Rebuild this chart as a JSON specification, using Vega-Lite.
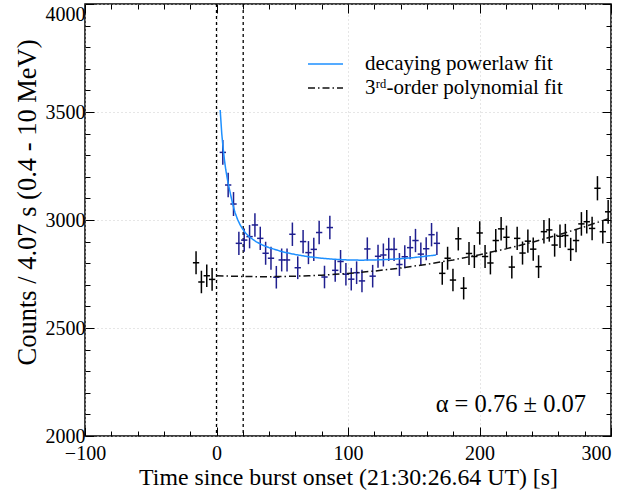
{
  "$schema": "https://vega.github.io/schema/vega-lite/v6.json",
  "width": 526,
  "height": 432,
  "autosize": "none",
  "padding": {"left": 85, "top": 4, "right": 14, "bottom": 55},
  "config": {
    "font": "Liberation Serif",
    "view": {"stroke": "black", "strokeWidth": 1.5},
    "axis": {
      "domain": false,
      "labelFont": "Liberation Serif",
      "titleFont": "Liberation Serif",
      "labelFontSize": 20,
      "titleFontSize": 23.8,
      "titleFontWeight": "normal",
      "labelColor": "black",
      "titleColor": "black",
      "tickColor": "black",
      "tickWidth": 1,
      "grid": false
    }
  },
  "datasets": {
    "pts": [
      {"t": -15.55, "c": 2802, "e": 52.9, "dt": 2.4, "g": "o"},
      {"t": -11.48, "c": 2713, "e": 52.1, "dt": 2.4, "g": "o"},
      {"t": -7.41, "c": 2742, "e": 52.4, "dt": 2.4, "g": "o"},
      {"t": -3.34, "c": 2725, "e": 52.2, "dt": 2.4, "g": "o"},
      {"t": 4.8, "c": 3313, "e": 57.6, "dt": 2.4, "g": "b"},
      {"t": 8.87, "c": 3162, "e": 56.2, "dt": 2.4, "g": "b"},
      {"t": 12.94, "c": 3074, "e": 55.4, "dt": 2.4, "g": "b"},
      {"t": 17.01, "c": 2892, "e": 53.8, "dt": 2.4, "g": "b"},
      {"t": 21.08, "c": 2907, "e": 53.9, "dt": 2.4, "g": "b"},
      {"t": 25.15, "c": 2923, "e": 54.1, "dt": 2.4, "g": "b"},
      {"t": 29.22, "c": 2977, "e": 54.6, "dt": 2.4, "g": "b"},
      {"t": 33.29, "c": 2915, "e": 54.0, "dt": 2.4, "g": "b"},
      {"t": 37.36, "c": 2846, "e": 53.3, "dt": 2.4, "g": "b"},
      {"t": 41.43, "c": 2823, "e": 53.1, "dt": 2.4, "g": "b"},
      {"t": 45.5, "c": 2735, "e": 52.3, "dt": 2.4, "g": "b"},
      {"t": 49.57, "c": 2815, "e": 53.1, "dt": 2.4, "g": "b"},
      {"t": 53.64, "c": 2815, "e": 53.1, "dt": 2.4, "g": "b"},
      {"t": 57.71, "c": 2934, "e": 54.2, "dt": 2.4, "g": "b"},
      {"t": 61.78, "c": 2779, "e": 52.7, "dt": 2.4, "g": "b"},
      {"t": 65.85, "c": 2900, "e": 53.9, "dt": 2.4, "g": "b"},
      {"t": 69.92, "c": 2849, "e": 53.4, "dt": 2.4, "g": "b"},
      {"t": 73.99, "c": 2864, "e": 53.5, "dt": 2.4, "g": "b"},
      {"t": 78.06, "c": 2942, "e": 54.2, "dt": 2.4, "g": "b"},
      {"t": 82.13, "c": 2736, "e": 52.3, "dt": 2.4, "g": "b"},
      {"t": 86.2, "c": 2965, "e": 54.5, "dt": 2.4, "g": "b"},
      {"t": 90.27, "c": 2767, "e": 52.6, "dt": 2.4, "g": "b"},
      {"t": 94.34, "c": 2808, "e": 53.0, "dt": 2.4, "g": "b"},
      {"t": 98.41, "c": 2749, "e": 52.4, "dt": 2.4, "g": "b"},
      {"t": 102.48, "c": 2726, "e": 52.2, "dt": 2.4, "g": "b"},
      {"t": 106.55, "c": 2756, "e": 52.5, "dt": 2.4, "g": "b"},
      {"t": 110.62, "c": 2718, "e": 52.1, "dt": 2.4, "g": "b"},
      {"t": 114.69, "c": 2866, "e": 53.5, "dt": 2.4, "g": "b"},
      {"t": 118.76, "c": 2740, "e": 52.3, "dt": 2.4, "g": "b"},
      {"t": 122.83, "c": 2832, "e": 53.2, "dt": 2.4, "g": "b"},
      {"t": 126.9, "c": 2838, "e": 53.3, "dt": 2.4, "g": "b"},
      {"t": 130.97, "c": 2864, "e": 53.5, "dt": 2.4, "g": "b"},
      {"t": 135.04, "c": 2864, "e": 53.5, "dt": 2.4, "g": "b"},
      {"t": 139.11, "c": 2794, "e": 52.9, "dt": 2.4, "g": "b"},
      {"t": 143.18, "c": 2830, "e": 53.2, "dt": 2.4, "g": "b"},
      {"t": 147.25, "c": 2872, "e": 53.6, "dt": 2.4, "g": "b"},
      {"t": 151.32, "c": 2905, "e": 53.9, "dt": 2.4, "g": "b"},
      {"t": 155.39, "c": 2842, "e": 53.3, "dt": 2.4, "g": "b"},
      {"t": 159.46, "c": 2867, "e": 53.5, "dt": 2.4, "g": "b"},
      {"t": 163.53, "c": 2932, "e": 54.1, "dt": 2.4, "g": "b"},
      {"t": 167.6, "c": 2892, "e": 53.8, "dt": 2.4, "g": "b"},
      {"t": 171.67, "c": 2753, "e": 52.5, "dt": 2.4, "g": "o"},
      {"t": 175.74, "c": 2823, "e": 53.1, "dt": 2.4, "g": "o"},
      {"t": 179.81, "c": 2722, "e": 52.2, "dt": 2.4, "g": "o"},
      {"t": 183.88, "c": 2913, "e": 54.0, "dt": 2.4, "g": "o"},
      {"t": 187.95, "c": 2684, "e": 51.8, "dt": 2.4, "g": "o"},
      {"t": 192.02, "c": 2845, "e": 53.3, "dt": 2.4, "g": "o"},
      {"t": 196.09, "c": 2831, "e": 53.2, "dt": 2.4, "g": "o"},
      {"t": 200.16, "c": 2940, "e": 54.2, "dt": 2.4, "g": "o"},
      {"t": 204.23, "c": 2831, "e": 53.2, "dt": 2.4, "g": "o"},
      {"t": 208.3, "c": 2801, "e": 52.9, "dt": 2.4, "g": "o"},
      {"t": 212.37, "c": 2905, "e": 53.9, "dt": 2.4, "g": "o"},
      {"t": 216.44, "c": 2959, "e": 54.4, "dt": 2.4, "g": "o"},
      {"t": 220.51, "c": 2920, "e": 54.0, "dt": 2.4, "g": "o"},
      {"t": 224.58, "c": 2782, "e": 52.7, "dt": 2.4, "g": "o"},
      {"t": 228.65, "c": 2915, "e": 54.0, "dt": 2.4, "g": "o"},
      {"t": 232.72, "c": 2847, "e": 53.4, "dt": 2.4, "g": "o"},
      {"t": 236.79, "c": 2902, "e": 53.9, "dt": 2.4, "g": "o"},
      {"t": 240.86, "c": 2865, "e": 53.5, "dt": 2.4, "g": "o"},
      {"t": 244.93, "c": 2784, "e": 52.8, "dt": 2.4, "g": "o"},
      {"t": 249.0, "c": 2946, "e": 54.3, "dt": 2.4, "g": "o"},
      {"t": 253.07, "c": 2954, "e": 54.4, "dt": 2.4, "g": "o"},
      {"t": 257.14, "c": 2884, "e": 53.7, "dt": 2.4, "g": "o"},
      {"t": 261.21, "c": 2925, "e": 54.1, "dt": 2.4, "g": "o"},
      {"t": 265.28, "c": 2928, "e": 54.1, "dt": 2.4, "g": "o"},
      {"t": 269.35, "c": 2864, "e": 53.5, "dt": 2.4, "g": "o"},
      {"t": 273.42, "c": 2905, "e": 53.9, "dt": 2.4, "g": "o"},
      {"t": 277.49, "c": 2982, "e": 54.6, "dt": 2.4, "g": "o"},
      {"t": 281.56, "c": 2992, "e": 54.7, "dt": 2.4, "g": "o"},
      {"t": 285.63, "c": 2961, "e": 54.4, "dt": 2.4, "g": "o"},
      {"t": 289.7, "c": 3147, "e": 56.1, "dt": 2.4, "g": "o"},
      {"t": 293.77, "c": 2946, "e": 54.3, "dt": 2.4, "g": "o"},
      {"t": 297.84, "c": 3038, "e": 55.1, "dt": 2.4, "g": "o"}
    ],
    "fits": [
      {"t": 2.8, "v": 3509, "s": "decaying powerlaw fit"},
      {"t": 4, "v": 3400, "s": "decaying powerlaw fit"},
      {"t": 5, "v": 3335, "s": "decaying powerlaw fit"},
      {"t": 6, "v": 3280, "s": "decaying powerlaw fit"},
      {"t": 7, "v": 3235, "s": "decaying powerlaw fit"},
      {"t": 8, "v": 3198, "s": "decaying powerlaw fit"},
      {"t": 9, "v": 3166, "s": "decaying powerlaw fit"},
      {"t": 10, "v": 3138, "s": "decaying powerlaw fit"},
      {"t": 12, "v": 3082, "s": "decaying powerlaw fit"},
      {"t": 14, "v": 3036, "s": "decaying powerlaw fit"},
      {"t": 16, "v": 3003, "s": "decaying powerlaw fit"},
      {"t": 18, "v": 2977, "s": "decaying powerlaw fit"},
      {"t": 20, "v": 2957, "s": "decaying powerlaw fit"},
      {"t": 22, "v": 2940, "s": "decaying powerlaw fit"},
      {"t": 25, "v": 2922, "s": "decaying powerlaw fit"},
      {"t": 30, "v": 2900, "s": "decaying powerlaw fit"},
      {"t": 35, "v": 2884, "s": "decaying powerlaw fit"},
      {"t": 40, "v": 2872, "s": "decaying powerlaw fit"},
      {"t": 50, "v": 2853, "s": "decaying powerlaw fit"},
      {"t": 60, "v": 2840, "s": "decaying powerlaw fit"},
      {"t": 70, "v": 2830, "s": "decaying powerlaw fit"},
      {"t": 80, "v": 2823, "s": "decaying powerlaw fit"},
      {"t": 90, "v": 2818, "s": "decaying powerlaw fit"},
      {"t": 100, "v": 2815, "s": "decaying powerlaw fit"},
      {"t": 110, "v": 2814, "s": "decaying powerlaw fit"},
      {"t": 120, "v": 2815, "s": "decaying powerlaw fit"},
      {"t": 130, "v": 2817, "s": "decaying powerlaw fit"},
      {"t": 140, "v": 2821, "s": "decaying powerlaw fit"},
      {"t": 150, "v": 2826, "s": "decaying powerlaw fit"},
      {"t": 160, "v": 2833, "s": "decaying powerlaw fit"},
      {"t": 167, "v": 2838, "s": "decaying powerlaw fit"},
      {"t": 0, "v": 2742, "s": "3ʳᵈ-order polynomial fit"},
      {"t": 10, "v": 2740, "s": "3ʳᵈ-order polynomial fit"},
      {"t": 20, "v": 2738.5, "s": "3ʳᵈ-order polynomial fit"},
      {"t": 30, "v": 2737.8, "s": "3ʳᵈ-order polynomial fit"},
      {"t": 40, "v": 2737.7, "s": "3ʳᵈ-order polynomial fit"},
      {"t": 50, "v": 2738.4, "s": "3ʳᵈ-order polynomial fit"},
      {"t": 60, "v": 2739.8, "s": "3ʳᵈ-order polynomial fit"},
      {"t": 70, "v": 2741.9, "s": "3ʳᵈ-order polynomial fit"},
      {"t": 80, "v": 2744.7, "s": "3ʳᵈ-order polynomial fit"},
      {"t": 90, "v": 2748.3, "s": "3ʳᵈ-order polynomial fit"},
      {"t": 100, "v": 2752.7, "s": "3ʳᵈ-order polynomial fit"},
      {"t": 120, "v": 2763.6, "s": "3ʳᵈ-order polynomial fit"},
      {"t": 140, "v": 2777.6, "s": "3ʳᵈ-order polynomial fit"},
      {"t": 160, "v": 2794.8, "s": "3ʳᵈ-order polynomial fit"},
      {"t": 180, "v": 2815.3, "s": "3ʳᵈ-order polynomial fit"},
      {"t": 200, "v": 2839.1, "s": "3ʳᵈ-order polynomial fit"},
      {"t": 220, "v": 2866.3, "s": "3ʳᵈ-order polynomial fit"},
      {"t": 240, "v": 2896.9, "s": "3ʳᵈ-order polynomial fit"},
      {"t": 260, "v": 2931.1, "s": "3ʳᵈ-order polynomial fit"},
      {"t": 280, "v": 2968.9, "s": "3ʳᵈ-order polynomial fit"},
      {"t": 300, "v": 3010.3, "s": "3ʳᵈ-order polynomial fit"}
    ]
  },
  "layer": [
    {
      "data": {"values": [{"v": 0}, {"v": 20.3}]},
      "mark": {"type": "rule", "color": "black", "strokeWidth": 1.3, "strokeDash": [3, 3]},
      "encoding": {
        "x": {
          "field": "v", "type": "quantitative",
          "scale": {"domain": [-100, 300], "nice": false, "zero": false},
          "axis": {
            "orient": "bottom",
            "values": [-100, -80, -60, -40, -20, 0, 20, 40, 60, 80, 100, 120, 140, 160, 180, 200, 220, 240, 260, 280, 300],
            "format": "d",
            "labelExpr": "datum.value % 100 === 0 ? datum.label : ''",
            "tickSize": {"condition": {"test": "datum.value % 100 === 0", "value": -9}, "value": -5},
            "labelPadding": 16,
            "labelAlign": {"condition": {"test": "datum.value === 300", "value": "right"}, "value": "center"},
            "grid": true,
            "gridDash": [1, 3],
            "gridColor": "#cccccc",
            "gridOpacity": {"condition": {"test": "datum.value % 100 === 0", "value": 1}, "value": 0},
            "title": "Time since burst onset (21:30:26.64 UT) [s]",
            "titlePadding": 2
          }
        }
      }
    },
    {
      "data": {"name": "pts"},
      "transform": [{"filter": "datum.g === 'o'"}],
      "mark": {"type": "errorbar", "color": "black", "thickness": 1.5, "clip": true},
      "encoding": {
        "x": {
          "field": "t", "type": "quantitative",
          "scale": {"domain": [-100, 300], "nice": false, "zero": false},
          "axis": {
            "orient": "top",
            "values": [-100, -80, -60, -40, -20, 0, 20, 40, 60, 80, 100, 120, 140, 160, 180, 200, 220, 240, 260, 280, 300],
            "labels": false,
            "title": null,
            "tickSize": {"condition": {"test": "datum.value % 100 === 0", "value": -9}, "value": -5}
          }
        },
        "y": {
          "field": "c", "type": "quantitative",
          "scale": {"domain": [2000, 4000], "nice": false, "zero": false},
          "axis": {
            "orient": "left",
            "values": [2000, 2100, 2200, 2300, 2400, 2500, 2600, 2700, 2800, 2900, 3000, 3100, 3200, 3300, 3400, 3500, 3600, 3700, 3800, 3900, 4000],
            "format": "d",
            "labelExpr": "datum.value % 500 === 0 ? datum.label : ''",
            "tickSize": {"condition": {"test": "datum.value % 500 === 0", "value": -9}, "value": -5},
            "labelPadding": 9,
            "labelBaseline": {"condition": {"test": "datum.value === 4000", "value": "top"}, "value": "middle"},
            "grid": true,
            "gridDash": [1, 3],
            "gridColor": "#cccccc",
            "gridOpacity": {"condition": {"test": "datum.value % 500 === 0", "value": 1}, "value": 0},
            "title": "Counts / 4.07 s (0.4 - 10 MeV)",
            "titleFontSize": 26.5,
            "titlePadding": 4,
            "titleY": 198
          }
        },
        "yError": {"field": "e"}
      }
    },
    {
      "data": {"name": "pts"},
      "transform": [{"filter": "datum.g === 'o'"}],
      "mark": {"type": "errorbar", "color": "black", "thickness": 1.5, "clip": true},
      "encoding": {
        "x": {"field": "t", "type": "quantitative", "scale": {"domain": [-100, 300], "nice": false, "zero": false}, "axis": null},
        "xError": {"field": "dt"},
        "y": {"field": "c", "type": "quantitative", "scale": {"domain": [2000, 4000], "nice": false, "zero": false}, "axis": null}
      }
    },
    {
      "data": {"name": "pts"},
      "transform": [{"filter": "datum.g === 'b'"}],
      "mark": {"type": "errorbar", "color": "#1f1f8f", "thickness": 1.5, "clip": true},
      "encoding": {
        "x": {"field": "t", "type": "quantitative", "scale": {"domain": [-100, 300], "nice": false, "zero": false}, "axis": null},
        "y": {
          "field": "c", "type": "quantitative",
          "scale": {"domain": [2000, 4000], "nice": false, "zero": false},
          "axis": {
            "orient": "right",
            "values": [2000, 2100, 2200, 2300, 2400, 2500, 2600, 2700, 2800, 2900, 3000, 3100, 3200, 3300, 3400, 3500, 3600, 3700, 3800, 3900, 4000],
            "labels": false,
            "title": null,
            "tickSize": {"condition": {"test": "datum.value % 500 === 0", "value": -9}, "value": -5}
          }
        },
        "yError": {"field": "e"}
      }
    },
    {
      "data": {"name": "pts"},
      "transform": [{"filter": "datum.g === 'b'"}],
      "mark": {"type": "errorbar", "color": "#1f1f8f", "thickness": 1.5, "clip": true},
      "encoding": {
        "x": {"field": "t", "type": "quantitative", "scale": {"domain": [-100, 300], "nice": false, "zero": false}, "axis": null},
        "xError": {"field": "dt"},
        "y": {"field": "c", "type": "quantitative", "scale": {"domain": [2000, 4000], "nice": false, "zero": false}, "axis": null}
      }
    },
    {
      "data": {"name": "fits"},
      "mark": {"type": "line", "strokeWidth": 1.5, "clip": true},
      "encoding": {
        "x": {"field": "t", "type": "quantitative", "scale": {"domain": [-100, 300], "nice": false, "zero": false}, "axis": null},
        "y": {"field": "v", "type": "quantitative", "scale": {"domain": [2000, 4000], "nice": false, "zero": false}, "axis": null},
        "detail": {"field": "s"},
        "color": {
          "field": "s", "type": "nominal",
          "scale": {"domain": ["decaying powerlaw fit", "3ʳᵈ-order polynomial fit"], "range": ["#1e90ff", "#111111"]},
          "legend": {
            "title": null,
            "orient": "none",
            "legendX": 227,
            "legendY": 46.5,
            "labelFont": "Liberation Serif",
            "labelFontSize": 21,
            "labelColor": "black",
            "labelLimit": 400,
            "symbolType": "M-1.4,0L1.4,0",
            "symbolSize": 625,
            "symbolStrokeWidth": 1.5,
            "labelOffset": 26,
            "rowPadding": 0
          }
        },
        "strokeDash": {
          "field": "s", "type": "nominal",
          "scale": {"domain": ["decaying powerlaw fit", "3ʳᵈ-order polynomial fit"], "range": [[1, 0], [7, 3, 1.5, 3]]},
          "legend": {
            "title": null,
            "orient": "none",
            "legendX": 227,
            "legendY": 46.5,
            "labelFont": "Liberation Serif",
            "labelFontSize": 21,
            "labelColor": "black",
            "labelLimit": 400,
            "symbolType": "M-1.4,0L1.4,0",
            "symbolSize": 625,
            "symbolStrokeWidth": 1.5,
            "labelOffset": 26,
            "rowPadding": 0
          }
        }
      }
    },
    {
      "data": {"values": [{"label": "α = 0.76 ± 0.07", "x": 281, "y": 2143}]},
      "mark": {"type": "text", "align": "right", "baseline": "middle", "fontSize": 24.5, "font": "Liberation Serif", "color": "black"},
      "encoding": {
        "x": {"field": "x", "type": "quantitative", "scale": {"domain": [-100, 300], "nice": false, "zero": false}, "axis": null},
        "y": {"field": "y", "type": "quantitative", "scale": {"domain": [2000, 4000], "nice": false, "zero": false}, "axis": null},
        "text": {"field": "label"}
      }
    }
  ],
  "resolve": {"axis": {"x": "independent", "y": "independent"}}
}
